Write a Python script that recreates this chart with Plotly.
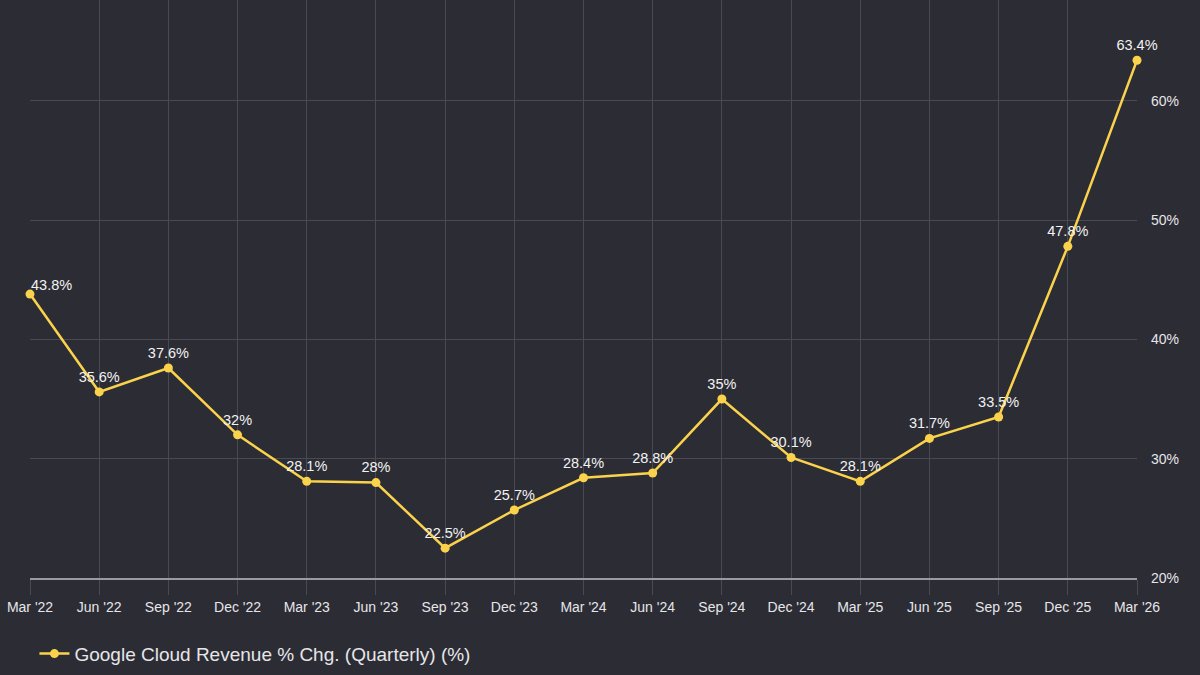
import plotly.graph_objects as go

quarters = ["Mar '22", "Jun '22", "Sep '22", "Dec '22", "Mar '23", "Jun '23", "Sep '23",
            "Dec '23", "Mar '24", "Jun '24", "Sep '24", "Dec '24", "Mar '25", "Jun '25",
            "Sep '25", "Dec '25", "Mar '26"]
growth = [43.8, 35.6, 37.6, 32, 28.1, 28, 22.5, 25.7, 28.4, 28.8, 35, 30.1, 28.1, 31.7,
          33.5, 47.8, 63.4]
y_ticks = [20, 30, 40, 50, 60]
series_name = "Google Cloud Revenue % Chg. (Quarterly) (%)"

BG = "#2c2c35"
GRID = "#4a4a55"
YELLOW = "#fbd24c"
TEXT = "#e6e6e8"
FONT = "Liberation Sans, Arial, sans-serif"

xs = list(range(len(quarters)))
labels = [f"{v:g}%" for v in growth]
# first label is drawn as a left-anchored annotation so it stays inside the plot
point_text = [""] + labels[1:]

fig = go.Figure()
fig.add_trace(go.Scatter(
    x=xs, y=growth, mode="lines+markers+text",
    name=series_name,
    line=dict(color=YELLOW, width=2.5),
    marker=dict(color=YELLOW, size=9),
    text=point_text, textposition="top center",
    textfont=dict(color="#f2f2f2", size=14.5, family=FONT),
    cliponaxis=False,
    hoverinfo="skip",
))
fig.add_annotation(
    x=xs[0], y=growth[0], text=labels[0], showarrow=False,
    xanchor="left", yanchor="bottom", xshift=-1, yshift=-1,
    font=dict(color="#f2f2f2", size=14.5, family=FONT),
)

fig.update_layout(
    width=1200, height=675,
    paper_bgcolor=BG, plot_bgcolor=BG,
    margin=dict(l=30, r=63, t=0, b=97),
    font=dict(family=FONT, color=TEXT, size=14),
    showlegend=True,
    legend=dict(orientation="h", x=0.004, xanchor="left", y=-0.131, yanchor="middle",
                font=dict(size=19, color=TEXT), bgcolor="rgba(0,0,0,0)"),
    xaxis=dict(
        range=[0, len(quarters) - 1],
        tickvals=xs, ticktext=quarters,
        showgrid=True, gridcolor=GRID, gridwidth=1,
        ticks="outside", ticklen=15, tickcolor=GRID, tickwidth=1,
        showline=True, linecolor="#9a9aa0", linewidth=2,
        zeroline=False,
        tickfont=dict(size=14, color=TEXT),
        fixedrange=True,
    ),
    yaxis=dict(
        side="right",
        range=[20, 68.45],
        tickvals=y_ticks, ticktext=[f"{t}%" for t in y_ticks],
        showgrid=True, gridcolor=GRID, gridwidth=1,
        zeroline=False, showline=False,
        ticks="", ticklabelstandoff=13,
        tickfont=dict(size=14, color=TEXT),
        fixedrange=True,
    ),
)

fig.write_html(
    "out.html",
    config={"displayModeBar": False},
    post_script="document.body.style.margin='0';document.body.style.background='%s';" % BG,
)
